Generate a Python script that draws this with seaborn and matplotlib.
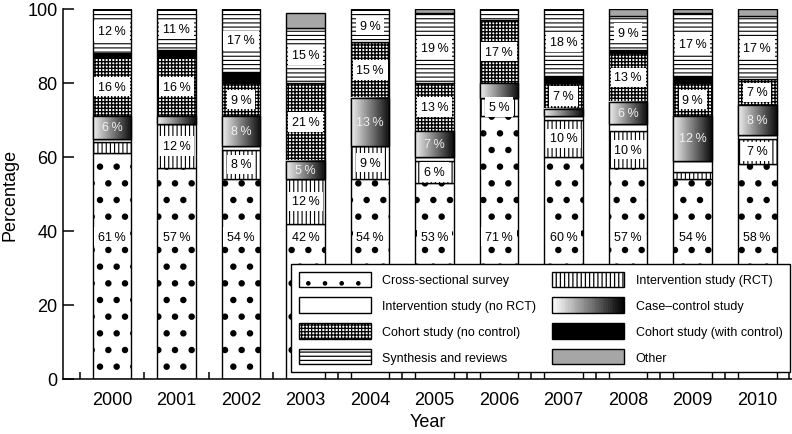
import numpy as np
import matplotlib
matplotlib.use('Agg')
import matplotlib.pyplot as plt
import seaborn as sns
from matplotlib.patches import Patch, Rectangle
from matplotlib.legend_handler import HandlerBase

# datos (porcentaje por tipo de estudio y año)
years = ['2000', '2001', '2002', '2003', '2004', '2005', '2006', '2007', '2008', '2009', '2010']
cross_sectional = [61, 57, 54, 42, 54, 53, 71, 60, 57, 54, 58]
rct = [3, 12, 8, 12, 9, 6, 5, 10, 10, 2, 7]
no_rct = [1, 0, 1, 0, 0, 1, 0, 1, 2, 3, 1]
case_control = [6, 2, 8, 5, 13, 7, 4, 2, 6, 12, 8]
cohort_no_ctrl = [16, 16, 9, 21, 15, 13, 17, 7, 13, 9, 7]
cohort_with_ctrl = [1, 2, 3, 0, 0, 0, 0, 2, 1, 2, 0]
synthesis = [12, 11, 17, 15, 9, 19, 3, 18, 9, 17, 17]
other = [0, 0, 0, 4, 0, 1, 0, 0, 2, 1, 2]

categories = ['Cross-sectional survey', 'Intervention study (RCT)',
              'Intervention study (no RCT)', 'Case\u2013control study',
              'Cohort study (no control)', 'Cohort study (with control)',
              'Synthesis and reviews', 'Other']
series = [cross_sectional, rct, no_rct, case_control,
          cohort_no_ctrl, cohort_with_ctrl, synthesis, other]

# estilo de cada segmento: (relleno, hatch, grosor del hatch)
estilos = [('white', '.', 2.2), ('white', '||||', 0.8), ('white', '', 0.8),
           ('white', '', 0.8), ('white', '+++++', 1.0), ('black', '', 0.8),
           ('white', '----', 0.8), ('#a6a6a6', '', 0.8)]

sns.set_style('ticks')
plt.rcParams['font.family'] = ['Liberation Sans', 'DejaVu Sans']
plt.rcParams.update({'axes.linewidth': 1.1, 'text.color': 'black',
                     'axes.labelcolor': 'black', 'xtick.color': 'black',
                     'ytick.color': 'black', 'axes.edgecolor': 'black'})


class HandlerGradient(HandlerBase):
    """Dibuja el degradado blanco-negro del caso-control en la leyenda."""
    def create_artists(self, legend, orig_handle, xdescent, ydescent,
                       width, height, fontsize, trans):
        n = 40
        arts = []
        for i in range(n):
            g = 1 - i / (n - 1)
            arts.append(Rectangle((-xdescent + i * width / n, -ydescent),
                                  width / n * 1.1, height, facecolor=str(g),
                                  edgecolor='none', transform=trans))
        arts.append(Rectangle((-xdescent, -ydescent), width, height,
                              facecolor='none', edgecolor='black', lw=1,
                              transform=trans))
        return arts


fig = plt.figure(figsize=(7.92, 4.35), dpi=100)
ax = fig.add_axes([63 / 792, 55 / 435, 729 / 792, 370 / 435])

bottom = np.zeros(len(years))
for k, (cat, vals) in enumerate(zip(categories, series)):
    fc, hatch, hlw = estilos[k]
    with plt.rc_context({'hatch.linewidth': hlw}):
        sns.barplot(x=years, y=vals, bottom=bottom, color=fc, hatch=hatch,
                    edgecolor='black', linewidth=1, width=0.6, errorbar=None,
                    zorder=2, ax=ax)
    cont = ax.containers[-1]

    if k == 3:
        # degradado horizontal dentro de cada barra
        grad = np.linspace(0.93, 0.05, 64).reshape(1, -1)
        for p in cont.patches:
            if p.get_height() <= 0:
                continue
            x0, y0 = p.get_x(), p.get_y()
            ax.imshow(grad, cmap='gray', vmin=0, vmax=1, origin='lower',
                      extent=(x0, x0 + p.get_width(), y0, y0 + p.get_height()),
                      aspect='auto', zorder=2.5, interpolation='bilinear')
            ax.add_patch(Rectangle((x0, y0), p.get_width(), p.get_height(),
                                   fill=False, edgecolor='black', lw=1, zorder=3))

    # etiquetas de porcentaje
    for p, v in zip(cont.patches, vals):
        if v < 5:
            continue
        xc = p.get_x() + p.get_width() / 2
        yc = 38.5 if k == 0 else p.get_y() + p.get_height() / 2
        if k == 3:
            ax.text(xc, yc, f'{v}\u2009%', ha='center', va='center',
                    fontsize=9, color='#f0f0f0', zorder=4)
        else:
            ax.text(xc, yc, f'{v}\u2009%', ha='center', va='center',
                    fontsize=9, color='black', zorder=4,
                    bbox=dict(boxstyle='square,pad=0.3', fc='white', ec='none'))
    bottom = bottom + np.array(vals)

ax.set_xlim(-0.76, len(years) - 0.46)
ax.set_ylim(0, 100)
ax.set_yticks([0, 20, 40, 60, 80, 100])
ax.set_xticks(np.arange(-0.5, len(years)), minor=True)
ax.tick_params(axis='y', direction='in', length=8, width=1.1, labelsize=13, pad=4)
ax.tick_params(axis='x', which='major', length=0, labelsize=13, pad=9)
ax.tick_params(axis='x', which='minor', direction='in', length=5, width=1.1)
ax.set_xlabel('Year', fontsize=13, labelpad=3)
ax.set_ylabel('Percentage', fontsize=13, labelpad=6)
sns.despine(ax=ax)

# leyenda en dos columnas
handles = []
for k, cat in enumerate(categories):
    fc, hatch, hlw = estilos[k]
    handles.append(Patch(facecolor=fc, hatch=hatch, edgecolor='black', lw=1, label=cat))
orden = [0, 2, 4, 6, 1, 3, 5, 7]
with plt.rc_context({'hatch.linewidth': 0.9}):
    leg = ax.legend([handles[i] for i in orden], [categories[i] for i in orden],
                    handler_map={handles[3]: HandlerGradient()},
                    loc='lower left', bbox_to_anchor=(0.313, 0.019, 0.684, 0.3),
                    mode='expand', ncol=2, fontsize=9, handlelength=5.8,
                    handleheight=1.5, labelspacing=0.85, handletextpad=0.9,
                    borderaxespad=0, borderpad=0.6, fancybox=False,
                    edgecolor='black', framealpha=1)
leg.get_frame().set_linewidth(1)
leg.set_zorder(10)

fig.savefig('out.png', dpi=100)
